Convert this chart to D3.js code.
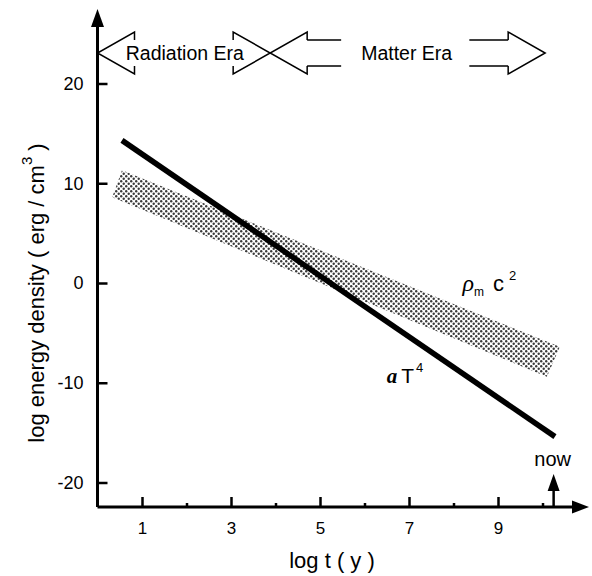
<!DOCTYPE html>
<html>
<head>
<meta charset="utf-8">
<script src="https://cdn.jsdelivr.net/npm/d3@7"></script>
<style>
  body { margin: 0; background: #fff; }
  svg { font-family: "Liberation Sans", Arial, sans-serif; }
</style>
</head>
<body>
<div id="chart"></div>
<script>
// values (log t in years, log energy density)
var xMajorTicks = [1, 3, 5, 7, 9];
var xMinorTicks = [2, 4, 6, 8, 10];
var yTicks = [-20, -10, 0, 10, 20];

// radiation term a T^4 : straight black line
var radLogT = [0.55, 10.28];
var radLogE = [14.3, -15.4];

// matter term rho_m c^2 : shaded band (upper and lower edge)
var bandTopT = [0.55, 10.39];
var bandTopE = [11.3, -6.4];
var bandBotT = [0.33, 10.10];
var bandBotE = [8.6, -9.4];

// eras shown as arrows along the top
var eraNames = ["Radiation Era", "Matter Era"];
var eraStart = [0, 3.88];
var eraEnd = [3.88, 10.06];

var nowLogT = 10.25;

var w = 592, h = 576;

var svg = d3.select("#chart").append("svg")
	.attr("width", w)
	.attr("height", h);

var x = d3.scaleLinear().domain([0, 10]).range([97.5, 542.5]);
var y = d3.scaleLinear().domain([-20, 20]).range([482.5, 83.5]);

var x0 = x(0), yBase = 507;

// dotted fill for the matter band
var defs = svg.append("defs");
var pat = defs.append("pattern")
	.attr("id", "dots")
	.attr("patternUnits", "userSpaceOnUse")
	.attr("width", 5)
	.attr("height", 5);
pat.append("circle").attr("cx", 1.2).attr("cy", 1.2).attr("r", 1.2).attr("fill", "#3a3a3a");
pat.append("circle").attr("cx", 3.7).attr("cy", 3.7).attr("r", 1.2).attr("fill", "#3a3a3a");

// band polygon: top edge left->right then bottom edge right->left
var bandPts = bandTopT.map(function(t, i) { return [t, bandTopE[i]]; })
	.concat(bandBotT.map(function(t, i) { return [t, bandBotE[i]]; }).reverse());

var line = d3.line()
	.x(function(d) { return x(d[0]); })
	.y(function(d) { return y(d[1]); });

svg.append("path")
	.attr("d", line(bandPts) + "Z")
	.attr("fill", "url(#dots)")
	.attr("stroke", "none");

// a T^4 line
svg.append("path")
	.attr("d", line(radLogT.map(function(t, i) { return [t, radLogE[i]]; })))
	.attr("fill", "none")
	.attr("stroke", "#000")
	.attr("stroke-width", 5.5);

// plain hyphen for negatives, like the original
var fmt = function(d) { return String(d); };

// y axis, ticks pointing inward
var yAxis = d3.axisLeft(y)
	.tickValues(yTicks)
	.tickSizeInner(-10)
	.tickSizeOuter(0)
	.tickPadding(14)
	.tickFormat(fmt);

var gy = svg.append("g")
	.attr("transform", "translate(" + x0 + ",0)")
	.call(yAxis);
gy.select(".domain").remove();
gy.selectAll(".tick line").attr("stroke-width", 2.5);
gy.selectAll("text").attr("font-size", 18).attr("fill", "#000");

// x axis, major and minor ticks
var xAxis = d3.axisBottom(x)
	.tickValues(xMajorTicks)
	.tickSizeInner(-10)
	.tickSizeOuter(0)
	.tickPadding(15)
	.tickFormat(fmt);

var gx = svg.append("g")
	.attr("transform", "translate(0," + yBase + ")")
	.call(xAxis);
gx.select(".domain").remove();
gx.selectAll(".tick line").attr("stroke-width", 2.5);
gx.selectAll("text").attr("font-size", 17).attr("fill", "#000");

var gxm = svg.append("g")
	.attr("transform", "translate(0," + yBase + ")")
	.call(d3.axisBottom(x).tickValues(xMinorTicks).tickSizeInner(-4).tickSizeOuter(0).tickFormat(""));
gxm.select(".domain").remove();
gxm.selectAll(".tick line").attr("stroke-width", 2.5);

// axis lines with arrow heads
svg.append("path")
	.attr("d", "M" + x0 + "," + yBase + "V24 M" + x0 + "," + yBase + "H578")
	.attr("stroke", "#000")
	.attr("stroke-width", 3)
	.attr("fill", "none");

svg.append("path")
	.attr("d", "M" + x0 + ",9 L" + (x0 - 6.5) + ",27 L" + (x0 + 6.5) + ",27Z")
	.attr("fill", "#000");
svg.append("path")
	.attr("d", "M589," + yBase + " L572," + (yBase - 6.5) + " L572," + (yBase + 6.5) + "Z")
	.attr("fill", "#000");

// axis titles
svg.append("text")
	.attr("x", 332)
	.attr("y", 568)
	.attr("text-anchor", "middle")
	.attr("font-size", 22)
	.text("log t ( y )");

var yt = svg.append("text")
	.attr("transform", "translate(44,293) rotate(-90)")
	.attr("text-anchor", "middle")
	.attr("font-size", 22);
yt.append("tspan").text("log energy density ( erg / cm");
yt.append("tspan").attr("font-size", 15).attr("dy", -12).text("3");
yt.append("tspan").attr("dy", 12).text(" )");

// "now" marker
var nx = x(nowLogT);
svg.append("line")
	.attr("x1", nx).attr("x2", nx)
	.attr("y1", yBase).attr("y2", 488)
	.attr("stroke", "#000")
	.attr("stroke-width", 2.5);
svg.append("path")
	.attr("d", "M" + nx + ",474 L" + (nx - 6) + ",491 L" + (nx + 6) + ",491Z")
	.attr("fill", "#000");
svg.append("text")
	.attr("x", nx - 1)
	.attr("y", 466)
	.attr("text-anchor", "middle")
	.attr("font-size", 20)
	.text("now");

// curve labels
var lab1 = svg.append("text")
	.attr("x", x(8.2))
	.attr("y", y(-0.8))
	.attr("font-size", 22);
lab1.append("tspan").attr("font-family", "Liberation Serif, serif").attr("font-style", "italic").attr("font-size", 24).text("\u03C1");
lab1.append("tspan").attr("font-size", 12).attr("dy", 5).text("m");
lab1.append("tspan").attr("dy", -5).attr("dx", 9).text("c");
lab1.append("tspan").attr("font-size", 13).attr("dy", -11).attr("dx", 5).text("2");

var lab2 = svg.append("text")
	.attr("x", x(6.5))
	.attr("y", y(-10.0))
	.attr("font-size", 21);
lab2.append("tspan").attr("font-family", "Liberation Serif, serif").attr("font-style", "italic").attr("font-weight", "bold").text("a");
lab2.append("tspan").attr("dx", 4).text("T");
lab2.append("tspan").attr("font-size", 13).attr("dy", -11).attr("dx", 2).text("4");

// era arrows: two heads each, body lines only where the text leaves room
var midY = 53, headHalf = 21, bodyHalf = 13, headLen = 37;

eraNames.forEach(function(name, i) {
	var xa = x(eraStart[i]), xb = x(eraEnd[i]);
	var g = svg.append("g");
	var txt = g.append("text")
		.attr("x", (xa + xb) / 2 + (i === 0 ? 1 : -1))
		.attr("y", midY + 7)
		.attr("text-anchor", "middle")
		.attr("font-size", 19.5)
		.text(name);
	var bb = txt.node().getBBox();
	var la = xa + headLen, lb = xb - headLen;
	var p = "M" + la + "," + (midY - bodyHalf) + "V" + (midY - headHalf) +
		"L" + xa + "," + midY + "L" + la + "," + (midY + headHalf) + "V" + (midY + bodyHalf);
	p += "M" + lb + "," + (midY - bodyHalf) + "V" + (midY - headHalf) +
		"L" + xb + "," + midY + "L" + lb + "," + (midY + headHalf) + "V" + (midY + bodyHalf);
	var gapL = bb.x - 20, gapR = bb.x + bb.width + 17;
	if (gapL > la) p += "M" + la + "," + (midY - bodyHalf) + "H" + gapL + "M" + la + "," + (midY + bodyHalf) + "H" + gapL;
	if (gapR < lb) p += "M" + gapR + "," + (midY - bodyHalf) + "H" + lb + "M" + gapR + "," + (midY + bodyHalf) + "H" + lb;
	g.append("path")
		.attr("d", p)
		.attr("fill", "none")
		.attr("stroke", "#000")
		.attr("stroke-width", 1.5);
});
</script>
</body>
</html>
